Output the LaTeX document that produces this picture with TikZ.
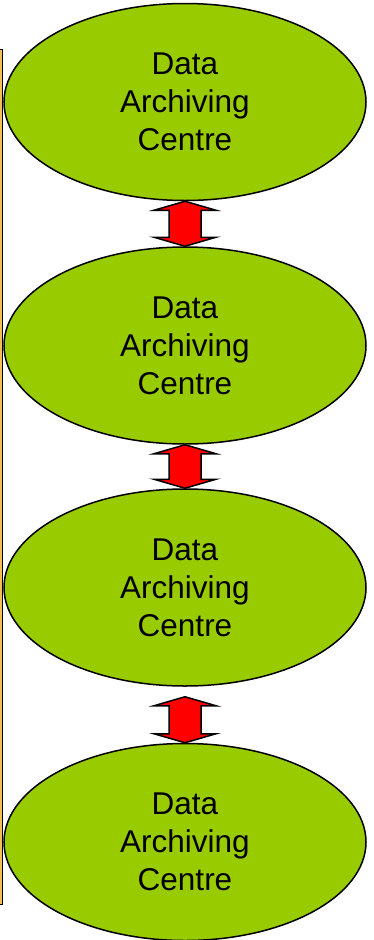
\documentclass[tikz,border=0pt]{standalone}
\usepackage{fontspec}
\setmainfont{Liberation Sans}
\usetikzlibrary{shapes.geometric,calc}
\definecolor{archgreen}{HTML}{99CC00}
\definecolor{archred}{HTML}{FF0000}
\definecolor{sidetan}{HTML}{F2C155}
\tikzset{
  centre/.style={ellipse, draw=black, line width=1.5pt, fill=archgreen,
    minimum width=362pt, minimum height=197pt, inner sep=0pt,
    align=center, font=\fontsize{31.5pt}{38pt}\selectfont},
  blockarrow/.style={draw=black, line width=1.5pt, fill=archred, line join=miter}
}
\newcommand{\dblarrow}[2]{%
  \draw[blockarrow] (#1) -- ($(#1)+(31,9)$) -- ($(#1)+(16,9)$) -- ($(#2)+(16,-9)$)
    -- ($(#2)+(31,-9)$) -- (#2) -- ($(#2)+(-31,-9)$) -- ($(#2)+(-16,-9)$)
    -- ($(#1)+(-16,9)$) -- ($(#1)+(-31,9)$) -- cycle;}
\begin{document}
\begin{tikzpicture}[x=1pt,y=-1pt]
\useasboundingbox (0,0) rectangle (374,940);
\draw[fill=sidetan, line width=1pt] (-3,49) rectangle (2.5,904);
\node[centre] (e1) at (185,102) {Data\\Archiving\\Centre};
\node[centre] (e2) at (185,345.5) {Data\\Archiving\\Centre};
\node[centre] (e3) at (185,587.5) {Data\\Archiving\\Centre};
\node[centre] (e4) at (185,842) {Data\\Archiving\\Centre};
\coordinate (a3top) at ($(e4.north)+(0,-46)$);
\dblarrow{e1.south}{e2.north}
\dblarrow{e2.south}{e3.north}
\dblarrow{a3top}{e4.north}
\end{tikzpicture}
\end{document}
